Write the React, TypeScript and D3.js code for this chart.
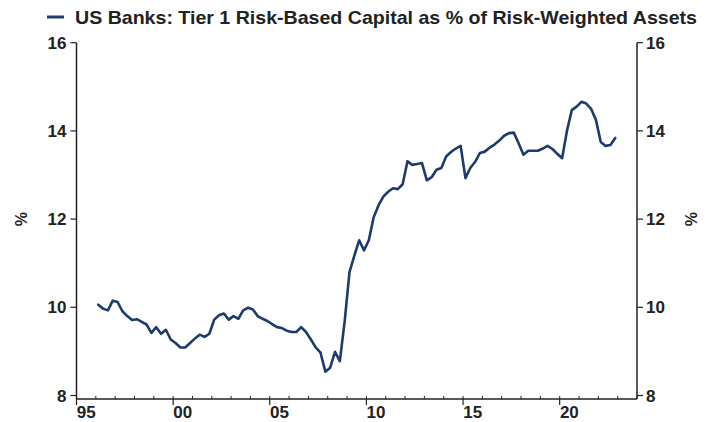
import React from "react";
import * as d3 from "d3";

const title = "US Banks: Tier 1 Risk-Based Capital as % of Risk-Weighted Assets";
const startYear = 1996;
const values: number[] = [
  10.06, 9.97, 9.93, 10.15,
  10.12, 9.91, 9.80, 9.71,
  9.73, 9.67, 9.61, 9.42,
  9.55, 9.40, 9.49, 9.27,
  9.19, 9.09, 9.09, 9.19,
  9.29, 9.38, 9.33, 9.40,
  9.72, 9.82, 9.86, 9.72,
  9.80, 9.74, 9.93, 9.99,
  9.95, 9.80, 9.74, 9.69,
  9.62, 9.55, 9.53, 9.47,
  9.44, 9.44, 9.55, 9.44,
  9.27, 9.09, 8.97, 8.54,
  8.63, 8.99, 8.78, 9.68,
  10.80, 11.17, 11.52, 11.29,
  11.52, 12.04, 12.31, 12.51,
  12.62, 12.70, 12.68, 12.79,
  13.31, 13.23, 13.25, 13.27,
  12.88, 12.95, 13.12, 13.16,
  13.42, 13.52, 13.60, 13.66,
  12.93, 13.16, 13.30, 13.50,
  13.53, 13.62, 13.69, 13.78,
  13.89, 13.95, 13.96, 13.72,
  13.46, 13.55, 13.55, 13.55,
  13.60, 13.66, 13.59, 13.48,
  13.38, 14.00, 14.47, 14.55,
  14.66, 14.62, 14.50, 14.25,
  13.75, 13.66, 13.68, 13.84,
];
const yTicks = [8, 10, 12, 14, 16];
const xMajorYears = [1995, 2000, 2005, 2010, 2015, 2020];
const xLabels = ["95", "00", "05", "10", "15", "20"];
const xDomain: [number, number] = [1995, 2024];
const yDomain: [number, number] = [8, 16];

const W = 711;
const H = 422;
const left = 76.5;
const right = 637;
const top = 42.7;
const bottom = 395.5;
const xAxisY = 399;
const lineColor = "#1f3a6d";
const axisColor = "#222";
const font = "'Liberation Sans', Arial, sans-serif";

export default function App() {
  const x = d3.scaleLinear().domain(xDomain).range([left, right]);
  const y = d3.scaleLinear().domain(yDomain).range([bottom, top]);
  const pts = values.map((v, i) => ({ t: startYear + i / 4 + 0.125, v }));
  const line = d3
    .line<{ t: number; v: number }>()
    .x((d) => x(d.t))
    .y((d) => y(d.v))
    .curve(d3.curveLinear);
  const minorYears = d3.range(xDomain[0], xDomain[1] + 1);

  return (
    <svg
      width={W}
      height={H}
      style={{ position: "absolute", left: 0, top: 0, background: "#fff" }}
      fontFamily={font}
    >
      <rect width={W} height={H} fill="#fff" />
      {/* legend */}
      <line x1={47} x2={64} y1={17} y2={17} stroke={lineColor} strokeWidth={3} />
      <text
        x={75}
        y={24}
        fontSize={18.5}
        fontWeight="bold"
        fill="#222"
        textLength={622}
        lengthAdjust="spacingAndGlyphs"
      >
        {title}
      </text>

      {/* left axis */}
      <line x1={left} x2={left} y1={top} y2={xAxisY} stroke={axisColor} strokeWidth={1.5} />
      {yTicks.map((t) => (
        <g key={"l" + t}>
          <line x1={left - 6} x2={left} y1={y(t)} y2={y(t)} stroke={axisColor} strokeWidth={1.2} />
          <text
            x={left - 10}
            y={y(t)}
            dy="0.36em"
            textAnchor="end"
            fontSize={17}
            fontWeight="bold"
            fill="#222"
          >
            {t}
          </text>
        </g>
      ))}
      {/* right axis */}
      <line x1={right} x2={right} y1={top} y2={xAxisY} stroke={axisColor} strokeWidth={1.5} />
      {yTicks.map((t) => (
        <g key={"r" + t}>
          <line x1={right} x2={right + 6} y1={y(t)} y2={y(t)} stroke={axisColor} strokeWidth={1.2} />
          <text
            x={right + 9}
            y={y(t)}
            dy="0.36em"
            textAnchor="start"
            fontSize={17}
            fontWeight="bold"
            fill="#222"
          >
            {t}
          </text>
        </g>
      ))}
      <text
        transform={`translate(27,${(top + bottom) / 2}) rotate(-90)`}
        textAnchor="middle"
        fontSize={16}
        fontWeight="bold"
        fill="#222"
      >
        %
      </text>
      <text
        transform={`translate(697,${(top + bottom) / 2}) rotate(-90)`}
        textAnchor="middle"
        fontSize={16}
        fontWeight="bold"
        fill="#222"
      >
        %
      </text>

      {/* x axis */}
      <line x1={left} x2={right} y1={xAxisY} y2={xAxisY} stroke={axisColor} strokeWidth={1.5} />
      {minorYears.map((yr) => (
        <line
          key={"m" + yr}
          x1={x(yr)}
          x2={x(yr)}
          y1={xAxisY}
          y2={xAxisY - 3}
          stroke={axisColor}
          strokeWidth={1}
        />
      ))}
      {xMajorYears.map((yr, i) => (
        <g key={"x" + yr}>
          <line x1={x(yr)} x2={x(yr)} y1={xAxisY} y2={xAxisY + 6} stroke={axisColor} strokeWidth={1.2} />
          <text
            x={x(yr + 0.5)}
            y={418}
            textAnchor="middle"
            fontSize={17}
            fontWeight="bold"
            fill="#222"
          >
            {xLabels[i]}
          </text>
        </g>
      ))}

      <path
        d={line(pts) || ""}
        fill="none"
        stroke={lineColor}
        strokeWidth={2.6}
        strokeLinejoin="round"
        strokeLinecap="round"
      />
    </svg>
  );
}
